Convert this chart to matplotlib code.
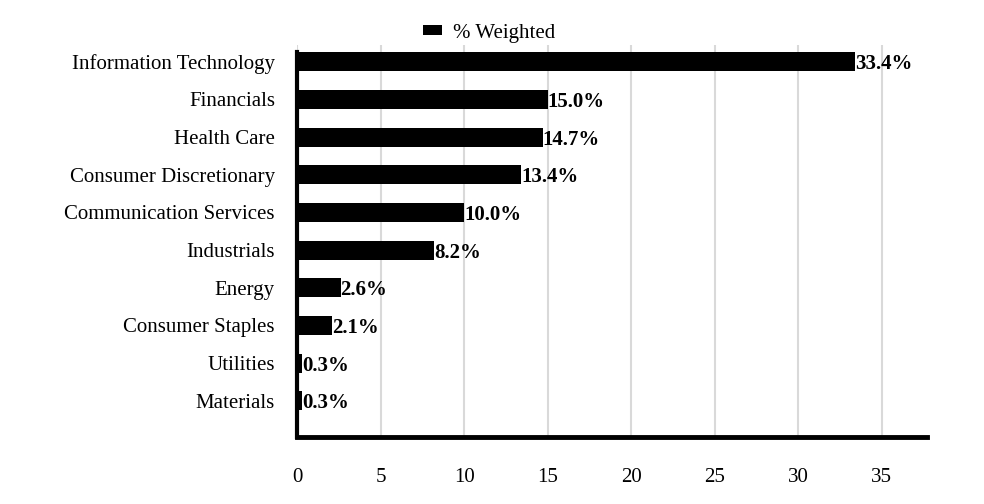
import matplotlib.pyplot as plt

plt.rcParams['font.family'] = ['Liberation Serif', 'DejaVu Serif']

# sector weights
sectors = ['Information Technology', 'Financials', 'Health Care', 'Consumer Discretionary',
           'Communication Services', 'Industrials', 'Energy', 'Consumer Staples',
           'Utilities', 'Materials']
weights = [33.4, 15.0, 14.7, 13.4, 10.0, 8.2, 2.6, 2.1, 0.3, 0.3]
xticks = [0, 5, 10, 15, 20, 25, 30, 35]

fig = plt.figure(figsize=(9.84, 5.04), dpi=100)
ax = fig.add_axes([0.302, 0.133, 0.64, 0.778])

pos = list(range(len(sectors) - 1, -1, -1))
ax.barh(pos, weights, height=0.5, color='black', label='% Weighted', zorder=3)

for p, w in zip(pos, weights):
    ax.text(w, p, f'{w:.1f}%', va='center_baseline', ha='left', fontsize=15,
            fontweight='bold', zorder=4)

ax.set_yticks(pos)
ax.set_yticklabels(sectors, fontsize=15)
ax.set_xticks(xticks)
ax.set_xticklabels([str(t) for t in xticks], fontsize=15)
ax.set_xlim(0, 37.7)
ax.set_ylim(-0.96, 9.45)

ax.tick_params(axis='y', length=0, pad=16)
ax.tick_params(axis='x', length=0, pad=22)
ax.grid(axis='x', color='#d9d9d9', linewidth=1.5, zorder=0)

for s in ['top', 'right']:
    ax.spines[s].set_visible(False)
ax.spines['left'].set_linewidth(3)
ax.spines['left'].set_bounds(-0.96, 9.25)
ax.spines['bottom'].set_linewidth(3.5)

fig.legend(loc='upper center', bbox_to_anchor=(0.497, 0.99), frameon=False,
           fontsize=15, handlelength=0.9, handleheight=0.35, handletextpad=0.5)

fig.savefig('out.png', dpi=100)
